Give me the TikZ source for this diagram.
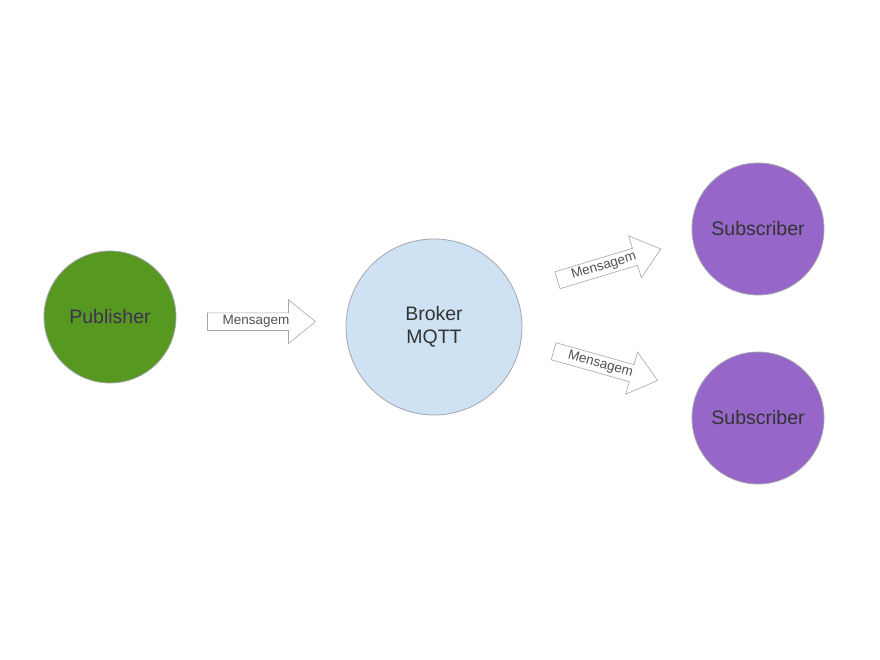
\documentclass[tikz,border=0pt]{standalone}
\usepackage{fontspec}
\setmainfont{Liberation Sans}
\usepackage{xcolor}
\usepackage{tikz}
\usetikzlibrary{shapes.arrows}
\definecolor{PubColor}{RGB}{86,152,32}
\definecolor{BrokerColor}{RGB}{207,226,243}
\definecolor{SubColor}{RGB}{150,102,200}
\definecolor{EdgeColor}{RGB}{165,165,175}
\definecolor{LabelColor}{RGB}{51,51,51}
\definecolor{PubLabelColor}{RGB}{64,48,80}
\tikzset{
    client/.style={
        shape=circle,
        draw=EdgeColor,
        line width=0.8pt,
        fill=#1,
        minimum size=132pt,
        inner sep=0pt,
        text=LabelColor,
        font=\fontsize{19.5}{23}\selectfont
    },
    server/.style={
        client=#1,
        minimum size=176pt,
        align=center
    },
    msgarrow/.style={
        shape=single arrow,
        draw=EdgeColor,
        fill=white,
        line width=0.6pt,
        minimum height=108pt,
        single arrow head extend=13pt,
        single arrow tip angle=78,
        inner ysep=2.5pt,
        inner xsep=2pt,
        text=LabelColor!85,
        font=\fontsize{13.5}{14}\selectfont
    }
}

\begin{document}
\begin{tikzpicture}[x=1pt, y=-1pt]

\useasboundingbox (0,0) rectangle (880,660);

% Nodes
\node[client=PubColor, text=PubLabelColor] (n_pub) at (110,317) {Publisher};
\node[server=BrokerColor] (n_broker) at (434,327) {Broker\\MQTT};
\node[client=SubColor] (n_sub1) at (758,229) {Subscriber};
\node[client=SubColor] (n_sub2) at (758,418) {Subscriber};

% Messages
\path (n_pub) -- node[msgarrow, xshift=-5pt] (a_msg1) {Mensagem} (n_broker);
\path (n_broker) -- node[msgarrow, sloped, yshift=9pt] (a_msg2) {Mensagem} (n_sub1);
\path (n_broker) -- node[msgarrow, sloped, xshift=-9pt, yshift=9pt] (a_msg3) {Mensagem} (n_sub2);

\end{tikzpicture}
\end{document}
